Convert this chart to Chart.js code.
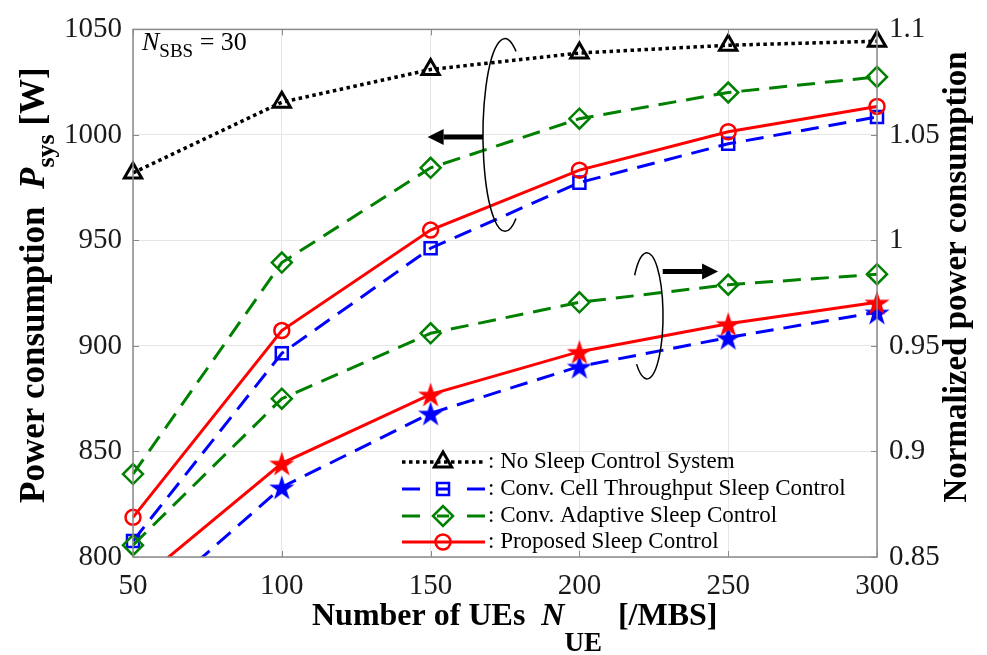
<!DOCTYPE html>
<html>
<head>
<meta charset="utf-8">
<title>Power consumption vs number of UEs</title>
<script src="https://cdn.jsdelivr.net/npm/chart.js@4.4.0/dist/chart.umd.min.js"></script>
<style>
  html, body { margin: 0; padding: 0; background: #fff; }
  canvas { display: block; }
</style>
</head>
<body>
<canvas id="powerChart" width="987" height="655"></canvas>
<script>
// number of UEs per MBS
const ueCounts = [50, 100, 150, 200, 250, 300]

// system power consumption [W], left axis
const noSleepPower = [982, 1015.5, 1031, 1038.8, 1042.5, 1044.4]
const cellThroughputPower = [807.6, 896.5, 946.3, 977.4, 995.8, 1008.5]
const adaptivePower = [839.3, 939.5, 984.4, 1007.7, 1020.1, 1027.5]
const proposedPower = [818.8, 907.3, 954.9, 983.3, 1001.5, 1013.5]

// normalized power consumption, right axis
const adaptiveNorm = [0.8556, 0.925, 0.956, 0.9707, 0.979, 0.984]
const proposedNorm = [0.836, 0.8944, 0.9271, 0.9473, 0.9605, 0.9707]
const cellThroughputNorm = [0.821, 0.8831, 0.9181, 0.9403, 0.954, 0.966]

const legendLabels = [
    ": No Sleep Control System",
    ": Conv. Cell Throughput Sleep Control",
    ": Conv. Adaptive Sleep Control",
    ": Proposed Sleep Control",
]

const FONT = "'Liberation Serif', 'Times New Roman', serif"
const DASH = [18, 10]
const DOT = [3.5, 3.5]

function pairs(values) {
    return ueCounts.map((x, i) => ({ x, y: values[i] }))
}

// filled five point star used as marker
function makeStar(color) {
    const size = 30
    const c = document.createElement("canvas")
    c.width = size
    c.height = size
    const g = c.getContext("2d")
    const R = 13.3, r = R * 0.382
    g.beginPath()
    for (let k = 0; k < 10; k++) {
        const rad = k % 2 === 0 ? R : r
        const a = -Math.PI / 2 + k * Math.PI / 5
        const px = size / 2 + rad * Math.cos(a)
        const py = size / 2 + 1.5 + rad * Math.sin(a)
        k === 0 ? g.moveTo(px, py) : g.lineTo(px, py)
    }
    g.closePath()
    g.fillStyle = color
    g.fill()
    return c
}

const noClip = false
const bottomClip = { left: 30, right: 30, top: 30, bottom: 0 }

const datasets = [
    {
        label: legendLabels[0], data: pairs(noSleepPower), yAxisID: "y",
        borderColor: "#000000", borderWidth: 3.5, borderDash: DOT,
        pointStyle: "triangle", pointRadius: 10, pointBorderWidth: 3,
        pointBorderColor: "#000000", clip: noClip, order: 5,
    },
    {
        label: legendLabels[1], data: pairs(cellThroughputPower), yAxisID: "y",
        borderColor: "#0000ff", borderWidth: 3, borderDash: DASH,
        pointStyle: "rect", pointRadius: 8.5, pointBorderWidth: 2.5,
        pointBorderColor: "#0000ff", clip: noClip, order: 4,
    },
    {
        label: legendLabels[2], data: pairs(adaptivePower), yAxisID: "y",
        borderColor: "#008000", borderWidth: 3, borderDash: DASH,
        pointStyle: "rectRot", pointRadius: 10, pointBorderWidth: 2.5,
        pointBorderColor: "#008000", clip: noClip, order: 3,
    },
    {
        label: legendLabels[3], data: pairs(proposedPower), yAxisID: "y",
        borderColor: "#ff0000", borderWidth: 3,
        pointStyle: "circle", pointRadius: 7.5, pointBorderWidth: 2.5,
        pointBorderColor: "#ff0000", clip: noClip, order: 1,
    },
    {
        label: "adaptive (normalized)", data: pairs(adaptiveNorm), yAxisID: "y2",
        borderColor: "#008000", borderWidth: 3, borderDash: DASH,
        pointStyle: "rectRot", pointRadius: 10, pointBorderWidth: 2.5,
        pointBorderColor: "#008000", clip: noClip, order: 3,
    },
    {
        label: "cell throughput (normalized)", data: pairs(cellThroughputNorm), yAxisID: "y2",
        borderColor: "#0000ff", borderWidth: 3, borderDash: DASH,
        pointStyle: makeStar("#0000ff"), clip: bottomClip, order: 2,
    },
    {
        label: "proposed (normalized)", data: pairs(proposedNorm), yAxisID: "y2",
        borderColor: "#ff0000", borderWidth: 3,
        pointStyle: makeStar("#ff0000"), clip: bottomClip, order: 0,
    },
]
datasets.forEach(d => {
    d.pointBackgroundColor = "rgba(0,0,0,0)"
    d.borderCapStyle = "butt"
    d.tension = 0
})

// bracket ellipses with arrows telling which axis a group belongs to
const brackets = [
    { axis: "y", cx: 175, cy: 1000, rx: 7.4, ry: 45.7, start: -60, end: 60, ccw: true,
      arrowFrom: 167.6, arrowTo: 149, arrowY: 999 },
    { axis: "y2", cx: 222.7, cy: 0.9643, rx: 5.4, ry: 0.0299, start: -140, end: 130, ccw: false,
      arrowFrom: 228, arrowTo: 246.6, arrowY: 0.9853 },
]

function drawRuns(ctx, runs, x, y) {
    let cx = x
    runs.forEach(r => {
        ctx.font = r.font
        ctx.fillText(r.text, cx, y + (r.dy || 0))
        cx += ctx.measureText(r.text).width
    })
    return cx - x
}

const decorations = {
    id: "decorations",
    afterDatasetsDraw(chart) {
        const { ctx, chartArea: a, scales } = chart
        const xs = scales.x

        // brackets and arrows
        ctx.save()
        ctx.strokeStyle = "#000"
        ctx.fillStyle = "#000"
        brackets.forEach(b => {
            const ys = scales[b.axis]
            const cx = xs.getPixelForValue(b.cx)
            const cy = ys.getPixelForValue(b.cy)
            const rx = Math.abs(xs.getPixelForValue(b.cx + b.rx) - cx)
            const ry = Math.abs(ys.getPixelForValue(b.cy + b.ry) - cy)
            ctx.lineWidth = 1.5
            ctx.beginPath()
            ctx.ellipse(cx, cy, rx, ry, 0, b.start * Math.PI / 180, b.end * Math.PI / 180, b.ccw)
            ctx.stroke()

            const x0 = xs.getPixelForValue(b.arrowFrom)
            const x1 = xs.getPixelForValue(b.arrowTo)
            const ay = ys.getPixelForValue(b.arrowY)
            const dir = Math.sign(x1 - x0)
            const head = 16
            ctx.lineWidth = 5
            ctx.beginPath()
            ctx.moveTo(x0, ay)
            ctx.lineTo(x1 - dir * head, ay)
            ctx.stroke()
            ctx.beginPath()
            ctx.moveTo(x1, ay)
            ctx.lineTo(x1 - dir * head, ay - 8)
            ctx.lineTo(x1 - dir * head, ay + 8)
            ctx.closePath()
            ctx.fill()
        })
        ctx.restore()

        // axes box with inward ticks
        ctx.save()
        ctx.strokeStyle = "#8a8a8a"
        ctx.lineWidth = 1.5
        ctx.strokeRect(a.left, a.top, a.right - a.left, a.bottom - a.top)
        ctx.lineWidth = 1
        ctx.beginPath()
        xs.ticks.forEach(t => {
            const px = Math.round(xs.getPixelForValue(t.value)) + 0.5
            ctx.moveTo(px, a.bottom); ctx.lineTo(px, a.bottom - 6)
            ctx.moveTo(px, a.top); ctx.lineTo(px, a.top + 6)
        })
        scales.y.ticks.forEach(t => {
            const py = Math.round(scales.y.getPixelForValue(t.value)) + 0.5
            ctx.moveTo(a.left, py); ctx.lineTo(a.left + 6, py)
        })
        scales.y2.ticks.forEach(t => {
            const py = Math.round(scales.y2.getPixelForValue(t.value)) + 0.5
            ctx.moveTo(a.right, py); ctx.lineTo(a.right - 6, py)
        })
        ctx.stroke()
        ctx.restore()
    },
    afterDraw(chart) {
        const { ctx, chartArea: a } = chart
        ctx.save()
        ctx.fillStyle = "#000"
        ctx.textBaseline = "alphabetic"
        ctx.textAlign = "left"

        // N_SBS = 30
        drawRuns(ctx, [
            { text: "N", font: `italic 26px ${FONT}` },
            { text: "SBS", font: `19px ${FONT}`, dy: 7 },
            { text: " = 30", font: `26px ${FONT}` },
        ], a.left + 9, 50)

        // x axis title
        drawRuns(ctx, [
            { text: "Number of UEs  ", font: `bold 32px ${FONT}` },
            { text: "N", font: `bold italic 32px ${FONT}` },
            { text: "UE", font: `bold 27px ${FONT}`, dy: 26 },
            { text: "  [/MBS]", font: `bold 32px ${FONT}` },
        ], 312, 625)

        // left axis title
        ctx.save()
        ctx.translate(44, 503)
        ctx.rotate(-Math.PI / 2)
        drawRuns(ctx, [
            { text: "Power consumption  ", font: `bold 35px ${FONT}` },
            { text: "P", font: `bold italic 35px ${FONT}` },
            { text: "sys", font: `bold 26px ${FONT}`, dy: 10 },
            { text: " [W]", font: `bold 35px ${FONT}` },
        ], 0, 0)
        ctx.restore()

        // right axis title
        ctx.save()
        ctx.translate(966, 277)
        ctx.rotate(-Math.PI / 2)
        ctx.textAlign = "center"
        ctx.font = `bold 33px ${FONT}`
        ctx.fillText("Normalized power consumption", 0, 0)
        ctx.restore()

        // legend, no box
        const lx0 = 402, lx1 = 485, mx = 443
        const rowY = [462, 489, 516, 542]
        legendLabels.forEach((label, i) => {
            const d = chart.data.datasets[i]
            const y = rowY[i]
            ctx.save()
            ctx.strokeStyle = d.borderColor
            ctx.lineWidth = d.borderWidth
            ctx.lineCap = "butt"
            ctx.beginPath()
            if (d.borderDash === DASH) {
                ctx.moveTo(lx0, y); ctx.lineTo(lx0 + 18, y)
                ctx.moveTo(lx1 - 18, y); ctx.lineTo(lx1, y)
                ctx.moveTo(mx - 6, y); ctx.lineTo(mx + 6, y)
            } else {
                if (d.borderDash) ctx.setLineDash(d.borderDash)
                ctx.moveTo(lx0, y); ctx.lineTo(lx1, y)
            }
            ctx.stroke()
            ctx.setLineDash([])
            ctx.fillStyle = "rgba(0,0,0,0)"
            ctx.strokeStyle = d.pointBorderColor
            ctx.lineWidth = d.pointBorderWidth
            Chart.helpers.drawPoint(ctx, {
                pointStyle: d.pointStyle, radius: d.pointRadius, rotation: 0,
                borderWidth: d.pointBorderWidth,
            }, mx, y)
            ctx.restore()
            ctx.font = `23px ${FONT}`
            ctx.textBaseline = "middle"
            ctx.fillStyle = "#000"
            ctx.fillText(label, 488, y)
        })
        ctx.restore()
    },
}

const tickFont = { family: FONT, size: 29 }
const plain = v => String(parseFloat(Number(v).toFixed(2)))

new Chart(document.getElementById("powerChart"), {
    type: "line",
    data: { datasets },
    options: {
        responsive: false,
        devicePixelRatio: 1,
        animation: false,
        events: [],
        layout: { padding: { top: 21, left: 0, right: 0, bottom: 0 } },
        scales: {
            x: {
                type: "linear",
                min: 50, max: 300,
                afterFit(scale) { scale.height = 98 },
                ticks: { stepSize: 50, font: tickFont, color: "#1a1a1a", padding: 12, callback: plain },
                grid: { color: "#e6e6e6", drawTicks: false },
                border: { display: false },
            },
            y: {
                position: "left",
                min: 800, max: 1050,
                afterFit(scale) { scale.width = 133 },
                ticks: { stepSize: 50, font: tickFont, color: "#1a1a1a", padding: 11, callback: plain },
                grid: { color: "#e6e6e6", drawTicks: false },
                border: { display: false },
            },
            y2: {
                position: "right",
                min: 0.85, max: 1.1,
                afterFit(scale) { scale.width = 110 },
                ticks: { stepSize: 0.05, font: tickFont, color: "#1a1a1a", padding: 12, callback: plain },
                grid: { drawOnChartArea: false, drawTicks: false },
                border: { display: false },
            },
        },
        plugins: {
            legend: { display: false },
            tooltip: { enabled: false },
        },
    },
    plugins: [decorations],
})
</script>
</body>
</html>
